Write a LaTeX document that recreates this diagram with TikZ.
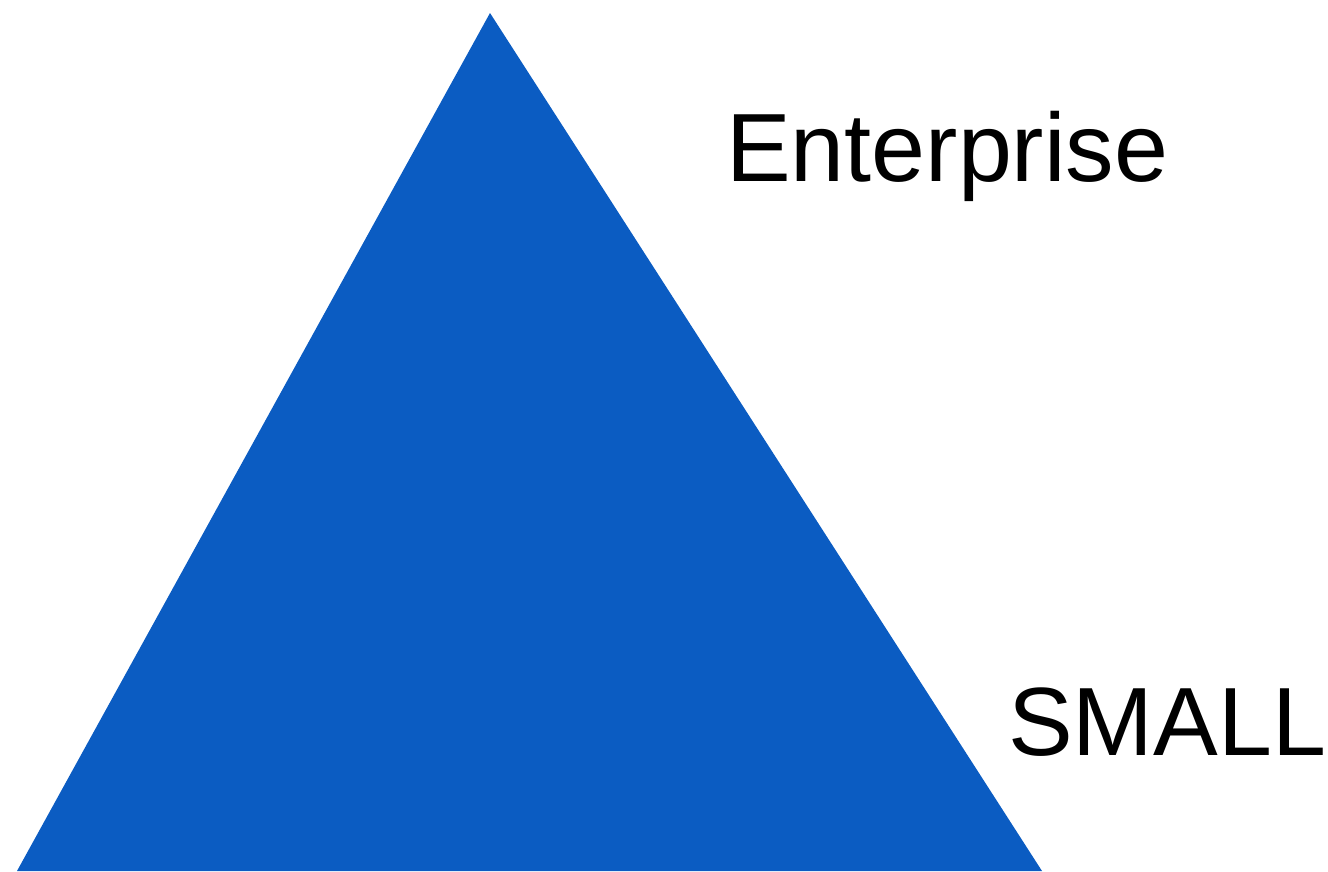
\documentclass[tikz,border=0pt]{standalone}
\usepackage{fontspec}
\setmainfont{Liberation Sans}
\definecolor{tribl}{HTML}{0B5CC2}
\begin{document}
\begin{tikzpicture}[x=1pt,y=-1pt,
  label/.style={inner sep=0pt,anchor=base west,font=\fontsize{97}{112}\selectfont}]
  \useasboundingbox (0,0) rectangle (1328,871);
  % the pyramid
  \coordinate (top) at (490,13);
  \coordinate (bl) at (17,871);
  \coordinate (br) at (1042,871);
  \fill[tribl] (top) -- (bl) -- (br) -- cycle;
  % level labels
  \node[label] (ent) at (726,181) {Enterprise};
  \node[label] (sml) at (1008,755) {SMALL};
\end{tikzpicture}
\end{document}
